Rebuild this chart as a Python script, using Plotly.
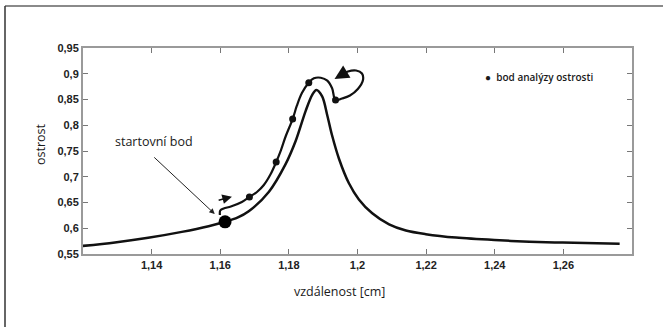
import plotly.graph_objects as go

# main sharpness curve (ostrost vs vzdálenost)
main_x = [1.1196, 1.1293, 1.1390, 1.1488, 1.1566, 1.1614, 1.1650, 1.1683, 1.1742, 1.1790,
          1.1820, 1.1849, 1.1868, 1.1880, 1.1897, 1.1912, 1.1926, 1.1946, 1.1975, 1.2004,
          1.2043, 1.2092, 1.2141, 1.2199, 1.2287, 1.2399, 1.2501, 1.2598, 1.2764]
main_y = [0.5655, 0.5725, 0.5815, 0.5930, 0.6040, 0.6125, 0.6205, 0.6330, 0.6710, 0.7240,
          0.7700, 0.8280, 0.8590, 0.8684, 0.8560, 0.8190, 0.7800, 0.7350, 0.6873, 0.6560,
          0.6290, 0.6075, 0.5955, 0.5885, 0.5818, 0.5770, 0.5740, 0.5721, 0.5700]

# search path drawn above the curve
path_x = [1.1599, 1.1600, 1.1610, 1.1631, 1.1663, 1.1685, 1.1707, 1.1727, 1.1747, 1.1763,
          1.1777, 1.1791, 1.1811, 1.1823, 1.1838, 1.1858, 1.1873, 1.1893, 1.1912, 1.1926,
          1.1936, 1.1955, 1.1978, 1.2001, 1.2016, 1.2013, 1.1996, 1.1972, 1.1955]
path_y = [0.6257, 0.6345, 0.6383, 0.6422, 0.6510, 0.6607, 0.6704, 0.6840, 0.7053, 0.7286,
          0.7519, 0.7791, 0.8121, 0.8374, 0.8626, 0.8826, 0.8912, 0.8923, 0.8865, 0.8717,
          0.8490, 0.8519, 0.8578, 0.8704, 0.8879, 0.9005, 0.9063, 0.9044, 0.8985]
loop_tip = (1.1933, 0.8898)

# sharpness analysis points
dots_x = [1.1685, 1.1763, 1.1811, 1.1858, 1.1936]
dots_y = [0.6607, 0.7286, 0.8121, 0.8826, 0.8490]

# start point
start_x = [1.1614]
start_y = [0.6125]

# small direction arrow near start
dir_from = (1.1591, 0.6535)
dir_to = (1.1634, 0.6613)

x_ticks = [1.14, 1.16, 1.18, 1.20, 1.22, 1.24, 1.26]
x_ticktext = ["1,14", "1,16", "1,18", "1,2", "1,22", "1,24", "1,26"]
y_ticks = [0.55, 0.60, 0.65, 0.70, 0.75, 0.80, 0.85, 0.90, 0.95]
y_ticktext = ["0,55", "0,6", "0,65", "0,7", "0,75", "0,8", "0,85", "0,9", "0,95"]

W, H = 663, 327
L, R, T, B = 83, 31, 48, 73
pw, ph = W - L - R, H - T - B

def px_x(p):
    return (p - L) / pw

def px_y(p):
    return (H - B - p) / ph

fig = go.Figure()
fig.add_trace(go.Scatter(x=main_x, y=main_y, mode="lines",
                         line=dict(color="#111111", width=2.5, shape="spline", smoothing=0.9),
                         showlegend=False, hoverinfo="skip"))
fig.add_trace(go.Scatter(x=path_x, y=path_y, mode="lines",
                         line=dict(color="#111111", width=2.2, shape="spline"),
                         showlegend=False, hoverinfo="skip"))
fig.add_trace(go.Scatter(x=dots_x, y=dots_y, mode="markers",
                         marker=dict(color="#111111", size=7),
                         name="bod analýzy ostrosti", showlegend=False))
fig.add_trace(go.Scatter(x=start_x, y=start_y, mode="markers",
                         marker=dict(color="#000000", size=13),
                         showlegend=False))

text_font = dict(family="Open Sans", size=12.5, color="#1a1a1a")

annotations = [
    # loop arrowhead
    dict(x=loop_tip[0], y=loop_tip[1], ax=path_x[-1], ay=path_y[-1],
         xref="x", yref="y", axref="x", ayref="y", text="", showarrow=True,
         arrowhead=2, arrowsize=1.3, arrowwidth=2.2, arrowcolor="#111111"),
    # direction arrow
    dict(x=dir_to[0], y=dir_to[1], ax=dir_from[0], ay=dir_from[1],
         xref="x", yref="y", axref="x", ayref="y", text="", showarrow=True,
         arrowhead=2, arrowsize=1.2, arrowwidth=1.6, arrowcolor="#111111"),
    # start label arrow
    dict(x=1.1584, y=0.6277, xref="x", yref="y", text="", showarrow=True,
         ax=-62, ay=-58, arrowhead=2, arrowsize=1.1, arrowwidth=1, arrowcolor="#222222"),
    dict(x=px_x(154), y=px_y(141), xref="paper", yref="paper", text="startovní bod",
         showarrow=False, font=text_font, xanchor="center", yanchor="middle"),
    # legend
    dict(x=px_x(483), y=px_y(76.5), xref="paper", yref="paper",
         text="●  bod analýzy ostrosti", showarrow=False,
         font=dict(family="Open Sans", size=10, color="#1a1a1a", weight=600),
         xanchor="left", yanchor="middle"),
    # axis titles
    dict(x=px_x(339.5), y=px_y(291.5), xref="paper", yref="paper", text="vzdálenost [cm]",
         showarrow=False, font=text_font, xanchor="center", yanchor="middle"),
    dict(x=px_x(40), y=px_y(144), xref="paper", yref="paper", text="ostrost",
         showarrow=False, font=text_font, textangle=-90, xanchor="center", yanchor="middle"),
]

shapes = [
    dict(type="line", xref="paper", yref="paper", x0=px_x(5), x1=px_x(663),
         y0=px_y(6), y1=px_y(6), line=dict(color="#8a8a8a", width=2)),
    dict(type="line", xref="paper", yref="paper", x0=px_x(5), x1=px_x(5),
         y0=px_y(6), y1=px_y(327), line=dict(color="#333333", width=1.5)),
]

axis_common = dict(showline=True, linecolor="#9a9a9a", linewidth=2, mirror="ticks",
                   ticks="inside", ticklen=5, tickcolor="#777777", tickwidth=1,
                   showgrid=False, zeroline=False,
                   tickfont=dict(family="Liberation Sans", size=11, color="#222222", weight="bold"))

fig.update_layout(
    width=W, height=H,
    margin=dict(l=L, r=R, t=T, b=B, pad=0),
    paper_bgcolor="white", plot_bgcolor="white",
    xaxis=dict(range=[1.12, 1.28], tickmode="array", tickvals=x_ticks, ticktext=x_ticktext,
               **axis_common),
    yaxis=dict(range=[0.55, 0.95], tickmode="array", tickvals=y_ticks, ticktext=y_ticktext,
               **axis_common),
    annotations=annotations,
    shapes=shapes,
    showlegend=False,
)

fig.write_html("out.html")
